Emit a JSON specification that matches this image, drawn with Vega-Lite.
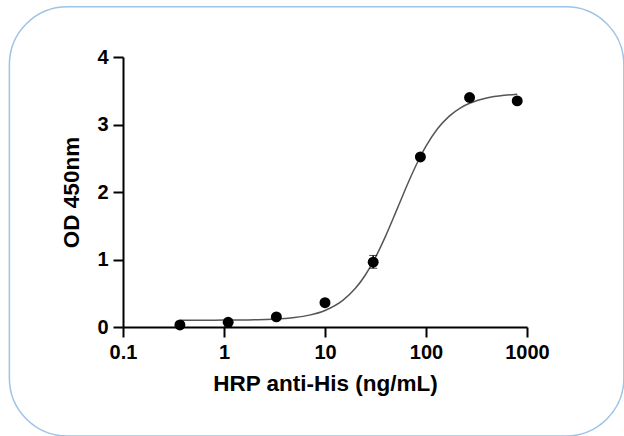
{
  "$schema": "https://vega.github.io/schema/vega-lite/v6.json",
  "width": 404,
  "height": 270,
  "padding": {"left": 8, "top": 5, "right": 0, "bottom": 0},
  "background": "white",
  "config": {
    "view": {"stroke": null},
    "font": "Liberation Sans",
    "axis": {
      "grid": false,
      "domainColor": "black",
      "domainWidth": 2,
      "tickColor": "black",
      "tickWidth": 2,
      "tickSize": 10,
      "labelFlush": false,
      "labelFont": "Liberation Sans",
      "labelFontWeight": "bold",
      "labelFontSize": 20,
      "labelColor": "black",
      "titleFont": "Liberation Sans",
      "titleFontWeight": "bold",
      "titleFontSize": 22.5,
      "titleColor": "black"
    }
  },
  "datasets": {
    "frame": [{"x0": 0.0075, "x1": 9100, "y0": -1.615, "y1": 4.745}],
    "fit": [
      {"conc": 0.37, "od": 0.10},
      {"conc": 1, "od": 0.102},
      {"conc": 2, "od": 0.108},
      {"conc": 3, "od": 0.116},
      {"conc": 5, "od": 0.141},
      {"conc": 7, "od": 0.176},
      {"conc": 10, "od": 0.245},
      {"conc": 15, "od": 0.394},
      {"conc": 20, "od": 0.573},
      {"conc": 25, "od": 0.767},
      {"conc": 30, "od": 0.968},
      {"conc": 40, "od": 1.354},
      {"conc": 50, "od": 1.694},
      {"conc": 60, "od": 1.979},
      {"conc": 70, "od": 2.211},
      {"conc": 88, "od": 2.526},
      {"conc": 100, "od": 2.678},
      {"conc": 130, "od": 2.936},
      {"conc": 170, "od": 3.124},
      {"conc": 220, "od": 3.247},
      {"conc": 270, "od": 3.314},
      {"conc": 400, "od": 3.393},
      {"conc": 600, "od": 3.433},
      {"conc": 800, "od": 3.449}
    ],
    "measured": [
      {"conc": 0.366, "od": 0.03, "lo": 0.03, "hi": 0.03},
      {"conc": 1.1, "od": 0.07, "lo": 0.07, "hi": 0.07},
      {"conc": 3.3, "od": 0.15, "lo": 0.15, "hi": 0.15},
      {"conc": 10, "od": 0.36, "lo": 0.36, "hi": 0.36},
      {"conc": 30, "od": 0.96, "lo": 0.87, "hi": 1.06},
      {"conc": 88, "od": 2.52, "lo": 2.52, "hi": 2.52},
      {"conc": 270, "od": 3.40, "lo": 3.40, "hi": 3.40},
      {"conc": 800, "od": 3.35, "lo": 3.35, "hi": 3.35}
    ]
  },
  "layer": [
    {
      "data": {"name": "frame"},
      "mark": {"type": "rect", "fill": null, "stroke": "#9dc3e6", "strokeWidth": 1.5, "cornerRadius": 58},
      "encoding": {
        "x": {"field": "x0", "type": "quantitative", "title": "HRP anti-His (ng/mL)", "scale": {"type": "log", "domain": [0.1, 1000]}},
        "x2": {"field": "x1"},
        "y": {"field": "y0", "type": "quantitative", "title": "OD 450nm", "scale": {"domain": [0, 4], "nice": false}},
        "y2": {"field": "y1"}
      }
    },
    {
      "data": {"name": "fit"},
      "mark": {"type": "line", "color": "#555555", "strokeWidth": 1.5, "interpolate": "monotone"},
      "encoding": {
        "x": {"field": "conc", "type": "quantitative", "title": "HRP anti-His (ng/mL)"},
        "y": {"field": "od", "type": "quantitative", "title": "OD 450nm"}
      }
    },
    {
      "data": {"name": "measured"},
      "mark": {"type": "errorbar", "ticks": {"size": 8, "color": "black", "strokeWidth": 1.5}, "rule": {"color": "black", "strokeWidth": 1.5}},
      "encoding": {
        "x": {"field": "conc", "type": "quantitative", "title": "HRP anti-His (ng/mL)"},
        "y": {"field": "lo", "type": "quantitative", "title": "OD 450nm"},
        "y2": {"field": "hi"}
      }
    },
    {
      "data": {"name": "measured"},
      "mark": {"type": "circle", "color": "black", "opacity": 1, "size": 120},
      "encoding": {
        "x": {
          "field": "conc",
          "type": "quantitative",
          "title": "HRP anti-His (ng/mL)",
          "axis": {"values": [0.1, 1, 10, 100, 1000], "format": "~g", "labelPadding": 5, "titlePadding": 10}
        },
        "y": {
          "field": "od",
          "type": "quantitative",
          "title": "OD 450nm",
          "axis": {"values": [0, 1, 2, 3, 4], "format": "d", "labelPadding": 5, "titlePadding": 13}
        }
      }
    }
  ]
}
